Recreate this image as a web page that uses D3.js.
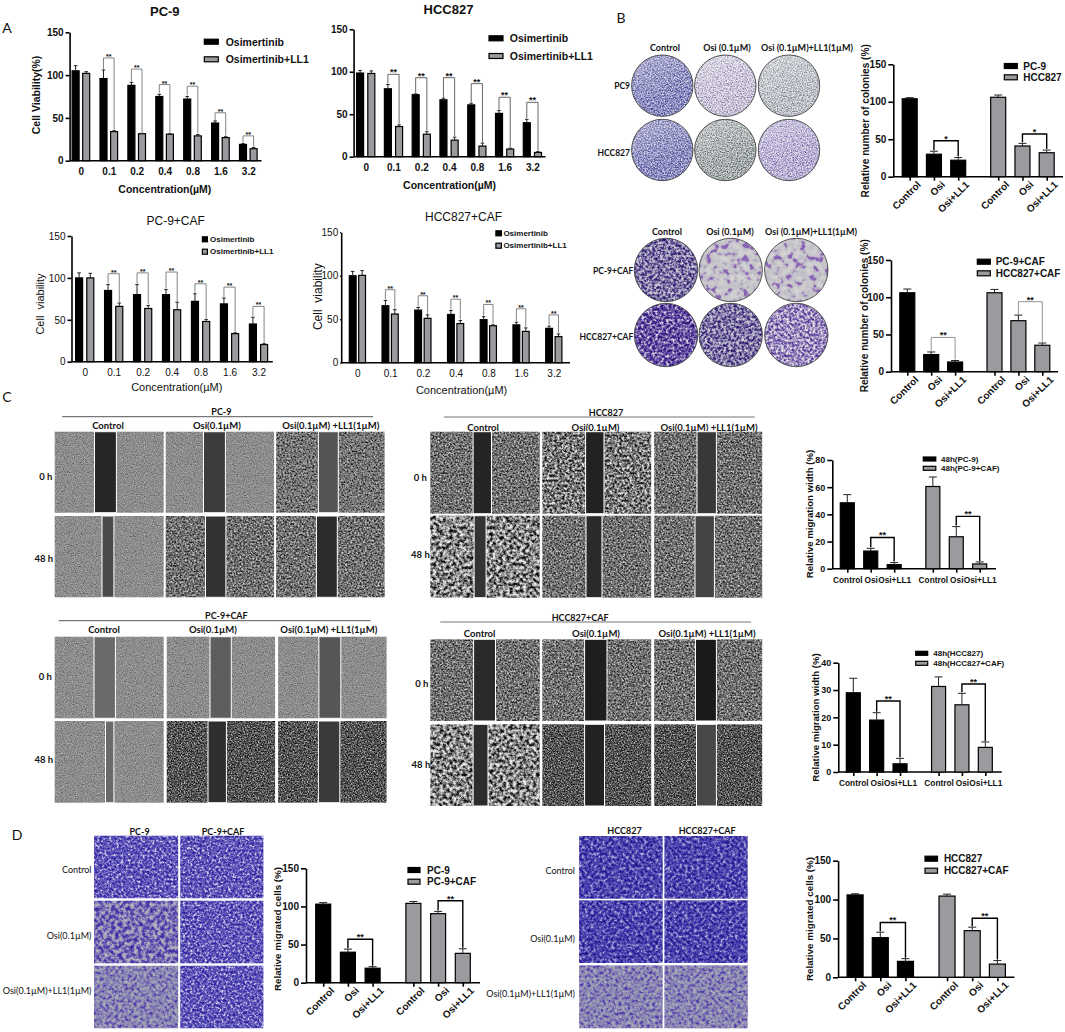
<!DOCTYPE html>
<html>
<head>
<meta charset="utf-8">
<script src="https://cdn.jsdelivr.net/npm/d3@7"></script>
<style>
  body { margin: 0; background: #fff; }
  svg { display: block; }
  text { fill: #111; }
  .sans { font-family: "Liberation Sans", Arial, sans-serif; }
  .lato { font-family: Lato, sans-serif; font-weight: 700; }
</style>
</head>
<body>
<div id="fig"></div>
<script>
// tick labels / categories
var doses = ["0", "0.1", "0.2", "0.4", "0.8", "1.6", "3.2"]
var groups = ["Control", "Osi", "Osi+LL1", "Control", "Osi", "Osi+LL1"]
var groupSlots = [0, 1, 2, 3.65, 4.65, 5.65]

// panel A, cell viability
var pc9Osi = [105, 96, 88, 75, 72, 44, 19]
var pc9OsiErr = [6, 10, 3.5, 2.5, 3, 2.5, 1]
var pc9LL1 = [102, 34, 31.5, 31, 29, 27, 14]
var pc9LL1Err = [2, 1, 0.5, 0.5, 1.5, 1, 1.5]
var pc9Sig = [120, 107, 89, 87, 56, 29]

var hccOsi = [98.5, 80, 73, 67, 61, 51, 40]
var hccOsiErr = [3, 5, 1, 2, 2, 3.5, 4]
var hccLL1 = [98, 35.5, 26.5, 19.5, 12.5, 9, 5]
var hccLL1Err = [3, 2, 3, 3.5, 3.5, 1, 1]
var hccSig = [97, 93, 93, 86, 70, 64]

var pc9CafOsi = [100, 85, 80, 80, 72, 69, 45]
var pc9CafOsiErr = [6, 7, 12, 6, 9, 7, 8]
var pc9CafLL1 = [100, 66, 63.5, 62, 48, 33.5, 20.5]
var pc9CafLL1Err = [5.5, 4, 3.5, 9, 2.5, 1, 1]
var pc9CafSig = [105, 106, 107, 93, 89, 66]

var hccCafOsi = [100, 65.5, 60.5, 55.5, 49.5, 43.5, 39.5]
var hccCafOsiErr = [5, 6, 3, 4.5, 3.5, 3, 2.5]
var hccCafLL1 = [100.5, 56, 51, 45, 42.5, 36, 30]
var hccCafLL1Err = [5.5, 5, 4, 3.5, 1, 4, 3]
var hccCafSig = [84, 77, 73, 67, 62, 55]

// panel B, colonies
var colonies = [104, 30, 22, 106, 41, 32]
var coloniesErr = [1.5, 4, 3.5, 3, 3.5, 3.5]
var coloniesSig = [48, 57]
var coloniesCaf = [106, 23, 13, 106, 68.5, 35.5]
var coloniesCafErr = [5, 3.5, 2, 4.5, 7.5, 3]
var coloniesCafSig = [46, 94]

// panel C, migration width
var widthPc9 = [48.5, 13, 3, 60.5, 23.5, 3.5]
var widthPc9Err = [6, 2, 1.5, 7, 7.5, 1.5]
var widthPc9Sig = [23, 38.5]
var widthHcc = [29, 19, 3, 31.3, 24.6, 9]
var widthHccErr = [5.3, 2.7, 2, 3.5, 4.2, 2]
var widthHccSig = [26, 32.2]

// panel D, migrated cells
var migPc9 = [103, 40, 19, 104, 90.5, 38.5]
var migPc9Err = [2, 4, 2, 2.5, 3, 6]
var migPc9Sig = [57, 107.5]
var migHcc = [106, 51, 20.5, 104.5, 60, 17]
var migHccErr = [1.5, 7, 3.5, 2.5, 4.5, 4.5]
var migHccSig = [70.5, 76]

var barBlack = "#000"
var barGray = "#9b9b9f"

var svg = d3.select("#fig").append("svg").attr("width", 1065).attr("height", 1032)
var defs = svg.append("defs")

// photo textures, noise pushed through a colour ramp
var textures = {
  gLight: { f: 0.9, k: 1.6, c: ["#5c5c5c", "#828282", "#989898", "#b0b0b0"] },
  gSpeck: { f: 0.55, k: 1.9, c: ["#1c1c1c", "#606060", "#8c8c8c", "#b4b4b4"] },
  gMid: { f: 0.55, k: 1.9, c: ["#202020", "#565656", "#8a8a8a", "#c6c6c6"] },
  gDark: { f: 0.7, k: 1.9, c: ["#0e0e0e", "#3a3a3a", "#6c6c6c", "#b4b4b4"] },
  gHigh: { f: 0.4, k: 2.0, c: ["#101010", "#505050", "#a0a0a0", "#e2e2e2"] },
  gCoarse: { f: 0.3, k: 2.1, c: ["#0a0a0a", "#585858", "#b0b0b0", "#ececec"] },
  dishBlue: { f: 0.7, k: 1.8, c: ["#3f3f8c", "#7272ae", "#a8a8d2", "#dcdcf0"] },
  dishPale: { f: 0.8, k: 2.6, c: ["#8f84ae", "#bdb5ce", "#d8d4e2", "#eeecf2"] },
  dishGray: { f: 0.8, k: 2.6, c: ["#848a94", "#b0b4bc", "#ccd0d4", "#e6e8ea"] },
  dishSage: { f: 0.8, k: 2.6, c: ["#636b6e", "#979da0", "#b8bebe", "#d6dad8"] },
  dishLilac: { f: 0.8, k: 1.8, c: ["#6d5ca6", "#a398c6", "#cec8e0", "#eeecf4"] },
  cafDense: { f: 0.38, k: 2.0, c: ["#2a1a68", "#5a4a90", "#a29cbc", "#d4d2da"] },
  cafSparse: { f: 0.16, k: 2.6, oct: 2, c: ["#8a64b4", "#a88ec0", "#bcb8c6", "#c2c0c8", "#c6c4ca", "#cac8cc", "#cecccf", "#d4d2d4"] },
  cafDeep: { f: 0.36, k: 2.0, c: ["#2b1470", "#4a2f95", "#8878b4", "#dcd8e6"] },
  cafMid: { f: 0.38, k: 1.9, c: ["#4a2f95", "#7a62ac", "#c0b8d2", "#eae8ee"] },
  wellDense: { f: 0.42, k: 1.9, c: ["#2c1f96", "#4a3fb0", "#7870c4", "#d4d2ea"] },
  wellBlobs: { f: 0.26, k: 2.0, c: ["#3d2aa0", "#5c4cb0", "#9894b8", "#b6b6c0"] },
  wellGray: { f: 0.32, k: 1.9, c: ["#4c35a8", "#7c70b4", "#9698b2", "#acaebc"] },
  wellDeep: { f: 0.34, k: 1.9, c: ["#1e1688", "#3a2ea4", "#625cba", "#aeaad8"] }
}
Object.keys(textures).forEach(function (k) {
  var t = textures[k]
  var rgb = t.c.map(function (c) { return d3.color(c) })
  var fl = defs.append("filter").attr("id", "tx-" + k)
    .attr("x", 0).attr("y", 0).attr("width", "100%").attr("height", "100%")
    .attr("color-interpolation-filters", "sRGB")
  fl.append("feTurbulence").attr("type", "fractalNoise").attr("baseFrequency", t.f)
    .attr("numOctaves", t.oct || 4).attr("seed", 7)
  // single channel, stretch contrast round the 0.5 mean
  var off = (0.5 - 0.5 * t.k).toFixed(2)
  var row = t.k + " 0 0 0 " + off
  fl.append("feColorMatrix").attr("type", "matrix")
    .attr("values", row + " " + row + " " + row + " 0 0 0 0 1")
  var ct = fl.append("feComponentTransfer").attr("result", "tex")
  ;[["feFuncR", "r"], ["feFuncG", "g"], ["feFuncB", "b"]].forEach(function (p) {
    ct.append(p[0]).attr("type", "table")
      .attr("tableValues", rgb.map(function (c) { return (c[p[1]] / 255).toFixed(3) }).join(" "))
  })
  fl.append("feComposite").attr("in", "tex").attr("in2", "SourceAlpha").attr("operator", "in")
})
var shade = defs.append("linearGradient").attr("id", "dishShade")
  .attr("x1", 0.2).attr("y1", 0).attr("x2", 0.6).attr("y2", 1)
shade.append("stop").attr("offset", 0).attr("stop-color", "#fff").attr("stop-opacity", 0.3)
shade.append("stop").attr("offset", 0.7).attr("stop-color", "#fff").attr("stop-opacity", 0)

function label(str, x, y, size, opts) {
  opts = opts || {}
  var t = svg.append("text").attr("class", opts.lato ? "lato" : "sans")
    .attr("x", x).attr("y", y)
    .attr("text-anchor", opts.anchor || "middle")
    .attr("dominant-baseline", "central")
    .style("font-size", size + "px")
    .style("font-weight", opts.weight || (opts.lato ? 700 : 400))
    .text(str)
  if (opts.rotate) t.attr("transform", "rotate(" + opts.rotate + "," + x + "," + y + ")")
  return t
}

function styleAxis(g, size, weight, lw) {
  g.selectAll("path,line").attr("stroke", "#000").attr("stroke-width", lw)
  g.selectAll("text").attr("class", "sans").style("font-size", size + "px").style("font-weight", weight)
}

// draws bars and whiskers
function drawBars(g, x, y, v, err, bw, fill, capW, stroke) {
  g.selectAll(null).data(v).enter().append("rect")
    .attr("x", function (d, i) { return x(i) - bw / 2 })
    .attr("y", function (d) { return y(d) })
    .attr("width", bw)
    .attr("height", function (d) { return y(0) - y(d) })
    .attr("fill", fill)
    .attr("stroke", stroke).attr("stroke-width", 1.2)
  g.selectAll(null).data(v).enter().append("path")
    .attr("d", function (d, i) {
      var t = y(d + err[i]), c = x(i)
      return "M" + c + "," + y(d) + "V" + t + "M" + (c - capW / 2) + "," + t + "H" + (c + capW / 2)
    })
    .attr("fill", "none").attr("stroke", "#222").attr("stroke-width", 1)
}

function bracket(g, x1, x2, top, y1, y2, color, lw, stars, starSize) {
  g.append("path")
    .attr("d", "M" + x1 + "," + y1 + "V" + top + "H" + x2 + "V" + y2)
    .attr("fill", "none").attr("stroke", color).attr("stroke-width", lw)
  g.append("text").attr("class", "sans")
    .attr("x", (x1 + x2) / 2).attr("y", top + 1)
    .attr("text-anchor", "middle")
    .style("font-size", starSize + "px").style("font-weight", 700)
    .text(stars)
}

function legend(p, names) {
  names.forEach(function (n, i) {
    var h = p.swH
    svg.append("rect").attr("x", p.sx).attr("y", p.ys[i] - h / 2)
      .attr("width", p.sw).attr("height", h)
      .attr("fill", i ? barGray : barBlack).attr("stroke", "#000").attr("stroke-width", 1.2)
    label(n, p.tx, p.ys[i], p.size, { anchor: "start", weight: 700 })
  })
}

// concentration panels in A
function dosePanel(p) {
  var g = svg.append("g")
  var x = d3.scalePoint().domain(doses).range([p.c0, p.c6])
  var y = d3.scaleLinear().domain([0, 150]).range([p.y0, p.y150])
  var offs = p.offset
  var xa = g.append("g").attr("transform", "translate(0," + p.y0 + ")")
    .call(d3.axisBottom(x).tickSize(0).tickPadding(7))
  xa.select(".domain").remove()
  g.append("line").attr("x1", p.axisX).attr("x2", p.xEnd).attr("y1", p.y0).attr("y2", p.y0)
    .attr("stroke", "#000").attr("stroke-width", 1.6)
  styleAxis(xa, p.tick, p.tickWeight, 1.4)
  var ya = g.append("g").attr("transform", "translate(" + p.axisX + ",0)")
    .call(d3.axisLeft(y).tickValues([0, 50, 100, 150]).tickSize(p.ySize === undefined ? 4 : p.ySize).tickPadding(2).tickSizeOuter(0))
  styleAxis(ya, p.tick, p.tickWeight, 1.6)

  var xb = function (i) { return x(doses[i]) - offs }
  var xg = function (i) { return x(doses[i]) + offs }
  drawBars(g, xb, y, p.a, p.aErr, p.bw, barBlack, 3.5, "#000")
  drawBars(g, xg, y, p.b, p.bErr, p.bw, barGray, 3.5, "#000")
  p.sig.forEach(function (s, k) {
    var i = k + 1
    bracket(g, xb(i), xg(i), y(s), y(p.a[i] + p.aErr[i]) - 1, y(p.b[i] + p.bErr[i]) - 1,
      p.brColor, 0.9, "**", p.starSize)
  })
  legend(p.leg, ["Osimertinib", "Osimertinib+LL1"])
  label(p.title, p.titleX, p.titleY, p.titleSize, { weight: p.titleWeight })
  label("Concentration(µM)", p.xtX, p.xtY, p.xtSize, { weight: p.xtWeight })
  if (p.ylabel) label(p.ylabel, p.ylX, p.ylY, p.ylSize, { weight: p.ylWeight, rotate: -90 }).style("white-space", "pre")
}

// control / osi / osi+LL1 panels in B, C, D
function groupPanel(p) {
  var g = svg.append("g")
  var x = d3.scaleLinear().domain([0, groupSlots[5]]).range([p.c0, p.c5])
  var y = d3.scaleLinear().domain([0, p.max]).range([p.y0, p.yMax])
  var xs = function (i) { return x(groupSlots[i]) }
  var xa = g.append("g").attr("transform", "translate(0," + p.y0 + ")")
    .call(d3.axisBottom(x).tickValues(groupSlots).tickFormat(function (d, i) { return groups[i] })
      .tickSize(4).tickPadding(p.rotate ? 3 : 4).tickSizeOuter(0))
  xa.select(".domain").remove()
  g.append("line").attr("x1", p.axisX).attr("x2", p.xEnd).attr("y1", p.y0).attr("y2", p.y0)
    .attr("stroke", "#000").attr("stroke-width", 1.6)
  styleAxis(xa, p.tick, 700, 1.6)
  if (p.rotate) {
    xa.selectAll("text").attr("text-anchor", "end").attr("dx", 2).attr("dy", 7)
      .attr("transform", "rotate(-45)")
  }
  var ya = g.append("g").attr("transform", "translate(" + p.axisX + ",0)")
    .call(d3.axisLeft(y).tickValues(p.ticks).tickSize(5).tickPadding(2).tickSizeOuter(0))
  styleAxis(ya, p.ytick || p.tick, 700, 1.6)

  var bars = function (idx, fill) {
    var sub = g.append("g")
    drawBars(sub, function (i) { return xs(idx[i]) }, y,
      idx.map(function (i) { return p.v[i] }), idx.map(function (i) { return p.e[i] }),
      p.bw, fill, 8, "#000")
  }
  bars([0, 1, 2], barBlack)
  bars([3, 4, 5], barGray)
  ;[[1, 2], [4, 5]].forEach(function (pair, k) {
    var a = pair[0], b = pair[1]
    bracket(g, xs(a), xs(b), y(p.sig[k]), y(p.v[a] + p.e[a]) - 1, y(p.v[b] + p.e[b]) - 1,
      p.brColor || "#000", p.brW || 1.4, p.stars, 9)
  })
  legend(p.leg, p.names)
  label(p.ylabel, p.ylX, p.ylY, p.ylSize, { weight: 700, rotate: -90 })
}

// A
dosePanel({ a: pc9Osi, aErr: pc9OsiErr, b: pc9LL1, bErr: pc9LL1Err, sig: pc9Sig,
  axisX: 69.6, xEnd: 261.5, c0: 80.9, c6: 248.3, y0: 160.7, y150: 32.3, offset: 5.3, bw: 7,
  tick: 10, tickWeight: 700, brColor: "#777", starSize: 7,
  leg: { sx: 204.3, sw: 14, swH: 5, tx: 225.7, ys: [41.7, 59.3], size: 10.5 },
  title: "PC-9", titleX: 164.8, titleY: 11, titleSize: 13, titleWeight: 700,
  xtX: 164.8, xtY: 189, xtSize: 10.5, xtWeight: 700,
  ylabel: "Cell Viability(%)", ylX: 35.7, ylY: 95, ylSize: 10.5, ylWeight: 700 })
dosePanel({ a: hccOsi, aErr: hccOsiErr, b: hccLL1, bErr: hccLL1Err, sig: hccSig,
  axisX: 353.6, xEnd: 545.5, c0: 365.7, c6: 532.4, y0: 156.7, y150: 29.3, offset: 5.6, bw: 7,
  tick: 10, tickWeight: 700, brColor: "#555", starSize: 9,
  leg: { sx: 489, sw: 14, swH: 5, tx: 509.8, ys: [38.3, 56], size: 10.5 },
  title: "HCC827", titleX: 448.5, titleY: 9, titleSize: 13, titleWeight: 700,
  xtX: 449.6, xtY: 185, xtSize: 10.5, xtWeight: 700 })
dosePanel({ a: pc9CafOsi, aErr: pc9CafOsiErr, b: pc9CafLL1, bErr: pc9CafLL1Err, sig: pc9CafSig,
  axisX: 71.5, xEnd: 272.8, c0: 84.7, c6: 258.5, y0: 361.7, y150: 236, offset: 5.6, bw: 7,
  tick: 10, tickWeight: 400, brColor: "#777", starSize: 7,
  leg: { sx: 202.4, sw: 5, swH: 5, tx: 210, ys: [239.3, 251.7], size: 8 },
  title: "PC-9+CAF", titleX: 175.7, titleY: 221, titleSize: 12, titleWeight: 400,
  xtX: 176.8, xtY: 387, xtSize: 11, xtWeight: 400,
  ylabel: "Cell  viability", ylX: 39.5, ylY: 304, ylSize: 11, ylWeight: 400 })
dosePanel({ a: hccCafOsi, aErr: hccCafOsiErr, b: hccCafLL1, bErr: hccCafLL1Err, sig: hccCafSig,
  axisX: 341.2, xEnd: 570, c0: 357.4, c6: 553.8, y0: 362.7, y150: 232.3, offset: 4.7, bw: 6.8, ySize: 1,
  tick: 10, tickWeight: 400, brColor: "#777", starSize: 7,
  leg: { sx: 495.9, sw: 5.5, swH: 5, tx: 503.4, ys: [233.3, 245.7], size: 8 },
  title: "HCC827+CAF", titleX: 463.5, titleY: 216.7, titleSize: 12, titleWeight: 400,
  xtX: 461.6, xtY: 390, xtSize: 11, xtWeight: 400,
  ylabel: "Cell  viability", ylX: 317.9, ylY: 296.7, ylSize: 12, ylWeight: 400 })

// B
groupPanel({ v: colonies, e: coloniesErr, sig: coloniesSig, max: 150, ticks: [0, 50, 100, 150], stars: "*",
  axisX: 893.3, xEnd: 1063, c0: 909.7, c5: 1046.7, y0: 176.7, yMax: 64.3, bw: 15, tick: 10, rotate: true,
  leg: { sx: 1004.3, sw: 13, swH: 5, tx: 1023.3, ys: [66, 77.3], size: 10 }, names: ["PC-9", "HCC827"],
  ylabel: "Relative number of colonies (%)", ylX: 865.7, ylY: 120.8, ylSize: 10.1 })
groupPanel({ v: coloniesCaf, e: coloniesCafErr, sig: coloniesCafSig, max: 150, ticks: [0, 50, 100, 150], stars: "**",
  brColor: "#888", brW: 0.9,
  axisX: 891, xEnd: 1058, c0: 907.3, c5: 1042.3, y0: 371.7, yMax: 260, bw: 15, tick: 10, rotate: true,
  leg: { sx: 977.3, sw: 13, swH: 5, tx: 995.7, ys: [261.7, 273.3], size: 10 }, names: ["PC-9+CAF", "HCC827+CAF"],
  ylabel: "Relative number of colonies (%)", ylX: 864.3, ylY: 315.8, ylSize: 10.1 })

// C
groupPanel({ v: widthPc9, e: widthPc9Err, sig: widthPc9Sig, max: 80, ticks: [0, 20, 40, 60, 80], stars: "**",
  axisX: 832.3, xEnd: 996, c0: 847.3, c5: 979.7, y0: 568.7, yMax: 460, bw: 14, tick: 8.3, ytick: 9,
  leg: { sx: 923.3, sw: 12.5, swH: 4, tx: 941, ys: [459, 468.3], size: 8 }, names: ["48h(PC-9)", "48h(PC-9+CAF)"],
  ylabel: "Relative migration width (%)", ylX: 809.3, ylY: 514, ylSize: 9.6 })
groupPanel({ v: widthHcc, e: widthHccErr, sig: widthHccSig, max: 40, ticks: [0, 10, 20, 30, 40], stars: "**",
  axisX: 838.3, xEnd: 1001.7, c0: 853.3, c5: 985.3, y0: 772, yMax: 662.7, bw: 14, tick: 8.3, ytick: 9,
  leg: { sx: 915.7, sw: 12, swH: 4, tx: 933.3, ys: [653.3, 663.3], size: 8 }, names: ["48h(HCC827)", "48h(HCC827+CAF)"],
  ylabel: "Relative migration width (%)", ylX: 815, ylY: 717.5, ylSize: 9.6 })

// D
groupPanel({ v: migPc9, e: migPc9Err, sig: migPc9Sig, max: 150, ticks: [0, 50, 100, 150], stars: "**",
  axisX: 306, xEnd: 480, c0: 323.2, c5: 462.8, y0: 982.7, yMax: 868.3, bw: 15, tick: 10, rotate: true,
  leg: { sx: 408, sw: 12, swH: 5, tx: 427, ys: [870, 881.7], size: 10 }, names: ["PC-9", "PC-9+CAF"],
  ylabel: "Relative migrated cells (%)", ylX: 277.9, ylY: 929, ylSize: 9.8 })
groupPanel({ v: migHcc, e: migHccErr, sig: migHccSig, max: 150, ticks: [0, 50, 100, 150], stars: "**",
  axisX: 838.1, xEnd: 1014.5, c0: 855.1, c5: 997.4, y0: 977.3, yMax: 860.7, bw: 16, tick: 10, rotate: true,
  leg: { sx: 925, sw: 12.5, swH: 5, tx: 943.9, ys: [858.7, 870.7], size: 10 }, names: ["HCC827", "HCC827+CAF"],
  ylabel: "Relative migrated cells (%)", ylX: 809.1, ylY: 919, ylSize: 9.8 })

// panel letters
label("A", 7, 27, 14, { weight: 400 }).attr("class", "lato").style("font-weight", 400)
label("B", 621, 17, 14, { weight: 400 }).attr("class", "lato").style("font-weight", 400)
label("C", 7, 396, 14, { weight: 400 }).attr("class", "lato").style("font-weight", 400)
label("D", 17, 834, 14, { weight: 400 }).attr("class", "lato").style("font-weight", 400)

// B photos, plates
function dish(cx, cy, r, tex, lit) {
  svg.append("circle").attr("cx", cx).attr("cy", cy).attr("r", r)
    .attr("fill", "#000").attr("filter", "url(#tx-" + tex + ")")
  if (lit) svg.append("circle").attr("cx", cx).attr("cy", cy).attr("r", r).attr("fill", "url(#dishShade)")
  svg.append("circle").attr("cx", cx).attr("cy", cy).attr("r", r)
    .attr("fill", "none").attr("stroke", "#444").attr("stroke-width", 0.9)
}
var dishX1 = [662.3, 725.3, 789]
var dishTex = [["dishBlue", "dishPale", "dishGray"], ["dishBlue", "dishSage", "dishLilac"]]
;[85.7, 150].forEach(function (cy, r) {
  dishX1.forEach(function (cx, c) { dish(cx, cy, 30.7, dishTex[r][c], true) })
})
var dishX2 = [666, 730.7, 796.3]
var dishTexCaf = [["cafDense", "cafSparse", "cafSparse"], ["cafDeep", "cafDense", "cafMid"]]
;[270, 335].forEach(function (cy, r) {
  dishX2.forEach(function (cx, c) { dish(cx, cy, 31.7, dishTexCaf[r][c], false) })
})
label("Control", 665, 47, 9, { lato: true })
label("Osi (0.1µM)", 727, 47, 9, { lato: true })
label("Osi (0.1µM)+LL1(1µM)", 807, 47, 9, { lato: true })
label("PC9", 630, 86, 8.5, { lato: true, anchor: "end" })
label("HCC827", 630, 153, 8.5, { lato: true, anchor: "end" })
label("Control", 667, 231.7, 9, { lato: true })
label("Osi (0.1µM)", 730, 231.7, 9, { lato: true })
label("Osi (0.1µM)+LL1(1µM)", 811, 231.7, 9, { lato: true })
label("PC-9+CAF", 633.3, 271, 8.5, { lato: true, anchor: "end" })
label("HCC827+CAF", 633.3, 336.7, 8.5, { lato: true, anchor: "end" })

// C photos, wound healing
function woundBlock(b) {
  svg.append("line").attr("x1", b.line[0]).attr("x2", b.line[1]).attr("y1", b.lineY).attr("y2", b.lineY)
    .attr("stroke", "#777").attr("stroke-width", 1.2)
  label(b.title, b.titleX, b.lineY - 5, 9, { lato: true })
  ;["Control", "Osi(0.1µM)", "Osi(0.1µM) +LL1(1µM)"].forEach(function (t, i) {
    label(t, b.headX[i], b.headY, 9.5, { lato: true })
  })
  b.rows.forEach(function (r, ri) {
    b.cols.forEach(function (c, ci) {
      svg.append("rect").attr("x", c[0]).attr("y", r[0]).attr("width", c[1] - c[0]).attr("height", r[1] - r[0])
        .attr("fill", "#000").attr("filter", "url(#tx-" + b.tex[ri][ci] + ")")
      var w = b.wounds[ri][ci]
      svg.append("rect").attr("x", w[0]).attr("y", r[0]).attr("width", w[1] - w[0]).attr("height", r[1] - r[0])
        .attr("fill", b.fill[ri][ci]).attr("stroke", "#fff").attr("stroke-width", 1)
    })
  })
  label("0 h", b.h0[0], b.h0[1], 9.5, { lato: true })
  label("48 h", b.h48[0], b.h48[1], 9.5, { lato: true })
}
var colsLeft = [[54.7, 163.7], [165.7, 274.1], [276.1, 384.6]]
var colsLeft2 = [[54.7, 163.7], [166.7, 275.1], [278.1, 386.6]]
var colsRight = [[430.3, 539.8], [542.3, 651.2], [654.2, 762.2]]
woundBlock({ title: "PC-9", titleX: 221.4, line: [62.2, 373], lineY: 416.7,
  headX: [108, 216.9, 330.8], headY: 425.7, rows: [[431.7, 512.7], [516, 597.3]], cols: colsLeft,
  tex: [["gLight", "gLight", "gSpeck"], ["gLight", "gMid", "gMid"]],
  wounds: [[[94.5, 116.4], [203.5, 225.4], [318.4, 338.3]], [[102, 113.9], [205.5, 225.9], [316.4, 337.3]]],
  fill: [["#262626", "#3c3c3c", "#555"], ["#4a4a4a", "#333", "#2c2c2c"]],
  h0: [45.8, 476.7], h48: [43.8, 558] })
woundBlock({ title: "HCC827", titleX: 606, line: [443.8, 754.7], lineY: 417,
  headX: [483.1, 595.5, 709], headY: 427, rows: [[431.7, 513.7], [515.7, 597.7]], cols: colsRight,
  tex: [["gMid", "gHigh", "gMid"], ["gCoarse", "gMid", "gMid"]],
  wounds: [[[473.1, 491.5], [585.6, 604], [697, 716.4]], [[474.1, 486.1], [586, 602], [695, 714.4]]],
  fill: [["#252525", "#222", "#383838"], ["#333", "#2a2a2a", "#444"]],
  h0: [420.4, 477.7], h48: [420.4, 554] })
woundBlock({ title: "PC-9+CAF", titleX: 226.4, line: [58.7, 370.6], lineY: 620.7,
  headX: [104, 212.9, 328.9], headY: 629.7, rows: [[636.7, 718.3], [721, 802.7]], cols: colsLeft2,
  tex: [["gLight", "gLight", "gLight"], ["gLight", "gDark", "gDark"]],
  wounds: [[[94, 115.4], [210, 231.3], [318.9, 340.8]], [[105.5, 113.9], [208, 226.4], [318.4, 339.8]]],
  fill: [["#6a6a6a", "#5e5e5e", "#565656"], ["#6a6a6a", "#2e2e2e", "#3a3a3a"]],
  h0: [45.3, 676], h48: [43.8, 759] })
woundBlock({ title: "HCC827+CAF", titleX: 580.1, line: [440.3, 751.2], lineY: 622,
  headX: [479.6, 596, 707], headY: 633.3, rows: [[639.3, 721], [724.3, 806]], cols: colsRight,
  tex: [["gMid", "gMid", "gMid"], ["gCoarse", "gDark", "gDark"]],
  wounds: [[[473.6, 495.5], [584.6, 607], [695.5, 716.4]], [[473.1, 488], [584.6, 604.5], [696.5, 716.4]]],
  fill: [["#2a2a2a", "#1e1e1e", "#1a1a1a"], ["#2c2c2c", "#222", "#484848"]],
  h0: [421.9, 683], h48: [420.9, 764] })

// D photos, transwell
function wellBlock(b) {
  b.heads.forEach(function (t, i) { label(t, b.headX[i], b.headY, 9, { lato: true }) })
  b.rows.forEach(function (r, ri) {
    b.cols.forEach(function (c, ci) {
      svg.append("rect").attr("x", c[0]).attr("y", r[0]).attr("width", c[1] - c[0]).attr("height", r[1] - r[0])
        .attr("fill", "#000").attr("filter", "url(#tx-" + b.tex[ri][ci] + ")")
    })
    var s = b.side[ri]
    label(s[0], b.sideX, s[1], 9, { anchor: "end" }).attr("class", "lato").style("font-weight", 400)
  })
}
wellBlock({ heads: ["PC-9", "PC-9+CAF"], headX: [139.6, 223.1], headY: 831,
  cols: [[94, 178.2], [180.2, 263.4]], rows: [[835.7, 898.3], [900.7, 963.3], [965.7, 1028.3]],
  tex: [["wellDense", "wellDense"], ["wellBlobs", "wellDense"], ["wellGray", "wellDense"]],
  sideX: 91.5, side: [["Control", 869], ["Osi(0.1µM)", 935], ["Osi(0.1µM)+LL1(1µM)", 990.7]] })
wellBlock({ heads: ["HCC827", "HCC827+CAF"], headX: [624.5, 707.1], headY: 830,
  cols: [[579.1, 662.7], [664.4, 747.7]], rows: [[836, 898.7], [900.3, 963], [965.3, 1028.3]],
  tex: [["wellDeep", "wellDeep"], ["wellDeep", "wellDeep"], ["wellGray", "wellGray"]],
  sideX: 575, side: [["Control", 870.7], ["Osi(0.1µM)", 938], ["Osi(0.1µM)+LL1(1µM)", 993.3]] })
</script>
</body>
</html>
